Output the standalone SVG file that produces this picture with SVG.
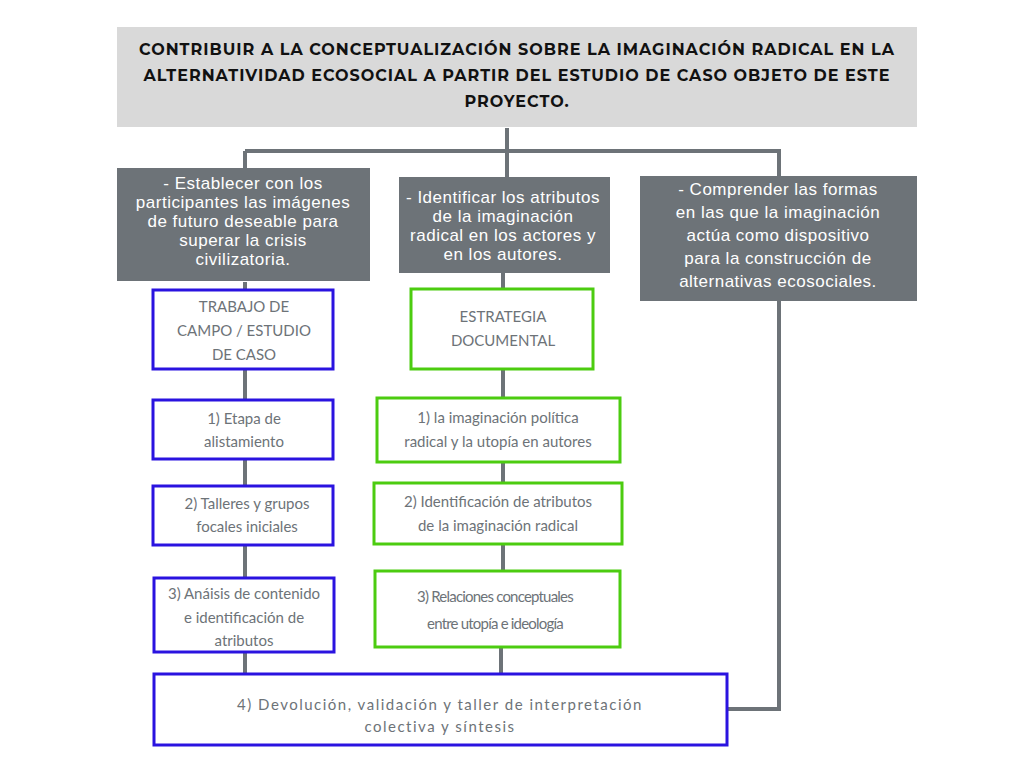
<svg xmlns="http://www.w3.org/2000/svg" width="1024" height="768" viewBox="0 0 1024 768">
<style>
.g{fill:#6d7378}
.t{font-family:"Liberation Sans",Arial,sans-serif;fill:#fff;font-size:17px;text-anchor:middle;letter-spacing:0.5px}
.b{fill:#fff;stroke:#2a13e0;stroke-width:3}
.v{fill:#fff;stroke:#4ccc10;stroke-width:3}
.s{font-family:"Lato","Liberation Sans",sans-serif;fill:#6d7378;font-size:15px;text-anchor:middle}
.c{stroke:#6d7378;stroke-width:4;fill:none}
</style>
<rect width="1024" height="768" fill="#fff"/>
<g id="connectors">
<path class="c" d="M507 128V151M245 151H779V298M245 151V168M507 151V177M245 282V290M245 370V400M245 460V486M245 546V578M245 652V674M503 273V290M503 370V398M503 462V483M503 545V572M501 646V674M727 709H779V300"/>
</g>
<g id="top"><rect x="117" y="27" width="800" height="100" fill="#d9d9d9"/>
<text font-family="Montserrat,'DejaVu Sans',sans-serif" font-weight="bold" font-size="16" fill="#111" text-anchor="middle" letter-spacing="1"><tspan x="517" y="55">CONTRIBUIR A LA CONCEPTUALIZACIÓN SOBRE LA IMAGINACIÓN RADICAL EN LA</tspan><tspan x="517" y="81">ALTERNATIVIDAD ECOSOCIAL A PARTIR DEL ESTUDIO DE CASO OBJETO DE ESTE</tspan><tspan x="517" y="107">PROYECTO.</tspan></text></g>
<g id="obj1"><rect class="g" x="117" y="168" width="253" height="113"/><text class="t"><tspan x="243" y="189">- Establecer con los</tspan><tspan x="243" y="208">participantes las imágenes</tspan><tspan x="243" y="227">de futuro deseable para</tspan><tspan x="243" y="246">superar la crisis</tspan><tspan x="243" y="265">civilizatoria.</tspan></text></g>
<g id="obj2"><rect class="g" x="399" y="177" width="211" height="96"/><text class="t" letter-spacing="0"><tspan x="503" y="203">- Identificar los atributos</tspan><tspan x="503" y="222">de la imaginación</tspan><tspan x="503" y="241">radical en los actores y</tspan><tspan x="503" y="260">en los autores.</tspan></text></g>
<g id="obj3"><rect class="g" x="640" y="176" width="277" height="125"/><text class="t" letter-spacing="1"><tspan x="778" y="195">- Comprender las formas</tspan><tspan x="778" y="218">en las que la imaginación</tspan><tspan x="778" y="241">actúa como dispositivo</tspan><tspan x="778" y="264">para la construcción de</tspan><tspan x="778" y="287">alternativas ecosociales.</tspan></text></g>
<g id="b1"><rect class="b" x="153" y="290" width="180" height="79"/><text class="s"><tspan x="244" y="312">TRABAJO DE</tspan><tspan x="244" y="336">CAMPO / ESTUDIO</tspan><tspan x="244" y="360">DE CASO</tspan></text></g>
<g id="b2"><rect class="b" x="153" y="400" width="180" height="59"/><text class="s"><tspan x="244" y="424">1) Etapa de</tspan><tspan x="244" y="447">alistamiento</tspan></text></g>
<g id="b3"><rect class="b" x="153" y="486" width="180" height="59"/><text class="s"><tspan x="247" y="509">2) Talleres y grupos</tspan><tspan x="247" y="532">focales iniciales</tspan></text></g>
<g id="b4"><rect class="b" x="154" y="578" width="180" height="74"/><text class="s"><tspan x="244" y="599">3) Anáisis de contenido</tspan><tspan x="244" y="623">e identificación de</tspan><tspan x="244" y="646">atributos</tspan></text></g>
<g id="g1"><rect class="v" x="411" y="289" width="182" height="80"/><text class="s"><tspan x="503" y="322">ESTRATEGIA</tspan><tspan x="503" y="346">DOCUMENTAL</tspan></text></g>
<g id="g2"><rect class="v" x="377" y="398" width="243" height="64"/><text class="s"><tspan x="498" y="423">1) la imaginación política</tspan><tspan x="498" y="447">radical y la utopía en autores</tspan></text></g>
<g id="g3"><rect class="v" x="374" y="483" width="248" height="61"/><text class="s"><tspan x="498" y="507">2) Identificación de atributos</tspan><tspan x="498" y="531">de la imaginación radical</tspan></text></g>
<g id="g4"><rect class="v" x="375" y="571" width="245" height="76"/><text class="s" font-size="18" letter-spacing="-0.8"><tspan x="495" y="602">3) Relaciones conceptuales</tspan><tspan x="495" y="629">entre utopía e ideología</tspan></text></g>
<g id="last"><rect class="b" x="154" y="674" width="573" height="71"/><text class="s" font-size="16" letter-spacing="1.5"><tspan x="440" y="710">4) Devolución, validación y taller de interpretación</tspan><tspan x="440" y="732">colectiva y síntesis</tspan></text></g>
</svg>
